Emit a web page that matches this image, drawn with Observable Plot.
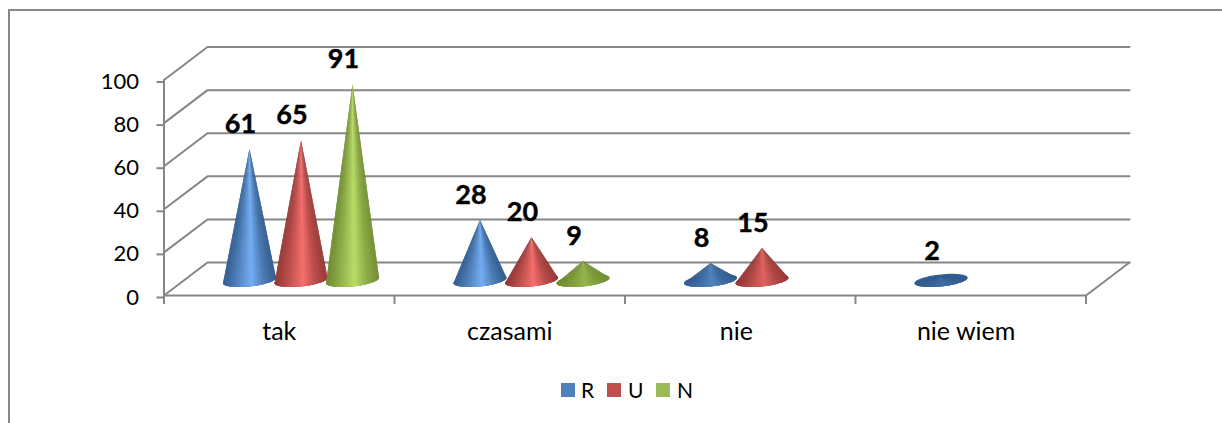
<!DOCTYPE html>
<html><head><meta charset="utf-8">
<script src="https://cdn.jsdelivr.net/npm/d3@7"></script>
<script src="https://cdn.jsdelivr.net/npm/@observablehq/plot@0.6"></script>
<style>
html,body{margin:0;padding:0;background:#fff;overflow:hidden;width:1222px;height:423px}
body{position:relative;font-family:Lato,sans-serif}
#frame{position:absolute;left:8px;top:9px;width:1300px;height:500px;border-left:2px solid #868686;border-top:2px solid #868686;pointer-events:none}
#chart{position:absolute;left:0;top:0}
#legend{position:absolute;left:0;top:376px;width:1222px;height:28px}
#legend span{position:absolute;top:0;font-size:21px;line-height:28px;color:#000}
#legend i{position:absolute;top:7px;width:14px;height:14px;display:block}
</style></head><body>
<div id="frame"></div>
<div id="chart"></div>
<div id="legend"></div>
<script>
const categories = ["tak","czasami","nie","nie wiem"];
const seriesNames = ["R","U","N"];
const valuesR = [61,28,8,2];
const valuesU = [65,20,15,null];
const valuesN = [91,9,null,null];
const yTicks = [0,20,40,60,80,100];
const xTicks = [0,1,2,3,4];
const labelTicks = [0.5,1.5,2.483,3.48];
const legendColors = ["#4f81bd","#c0504d","#9bbb59"];

const lineColor = "#868686";
const depthX = 0.1887, depthY = 15.3;   // oblique offset of the back wall, in scale units
const spacing = 0.2235, rx = 0.115, ry = 2.8, tilt = 1.25, floorY = 7;

const shades = [
  {edgeL:"#335d90", mid:"#74aef2", edgeR:"#335d8e"},
  {edgeL:"#933836", mid:"#f56f6d", edgeR:"#983a38"},
  {edgeL:"#6f8c32", mid:"#b9dc68", edgeR:"#738f34"}
];

const grid = yTicks.flatMap(v => [
  {id:v, x:0, y:v},
  {id:v, x:depthX, y:v+depthY},
  {id:v, x:4+depthX, y:v+depthY}
]);
const floorEdge = [{x:0,y:0},{x:4,y:0},{x:4+depthX,y:depthY}];

const cones = [];
[valuesR,valuesU,valuesN].forEach((vals,s) => vals.forEach((v,i) => {
  if (v==null) return;
  cones.push({s,i,v,cx:i+0.5+depthX/2+(s-1)*spacing});
}));

const bases = [], fans = [];
const N = 64;
cones.forEach((c,k) => {
  const sh = shades[c.s];
  const f = Math.min(1, (c.v+2)/22);
  const mid = d3.interpolateRgb(sh.edgeL, sh.mid)(f);
  const col = d3.scaleLinear().domain([-1,-0.55,0.08,0.55,1])
    .range([sh.edgeL, d3.interpolateRgb(sh.edgeL,mid)(0.38), mid, d3.interpolateRgb(sh.edgeR,mid)(0.38), sh.edgeR]);
  const at = t => ({x:c.cx+rx*Math.cos(t), y:floorY+tilt*Math.cos(t)-ry*Math.sin(t)});
  for (let j=0;j<=N;j++){ const t=j/N*2*Math.PI; bases.push({id:k,...at(t),color:sh.edgeL}); }
  // each slice reaches over the next one, so painting them in turn leaves no seams
  for (let j=N-1;j>=0;j--){
    const t0=Math.max(0,(j-1.2))/N*Math.PI, t1=(j+1)/N*Math.PI, id=k*1000+j;
    const color=col(Math.cos((j+0.5)/N*Math.PI));
    const apex={x:c.cx, y:floorY+c.v};
    fans.push({id,...apex,color},{id,...at(t0),color},{id,...at(t0+(t1-t0)/2),color},{id,...at(t1),color});
  }
});

const plot = Plot.plot({
  width:1222, height:376,
  marginLeft:163.5, marginRight:136.5, marginTop:79.5, marginBottom:81,
  x:{domain:[0,4], label:null},
  y:{domain:[0,100], label:null},
  color:{type:"identity"},
  style:{fontFamily:"Lato, sans-serif", background:"transparent", overflow:"visible"},
  marks:[
    Plot.line(grid,{x:"x",y:"y",z:"id",stroke:lineColor,strokeWidth:2}),
    Plot.line(floorEdge,{x:"x",y:"y",stroke:lineColor,strokeWidth:2}),
    Plot.ruleX([0],{y1:0,y2:100,stroke:lineColor,strokeWidth:2}),
    Plot.axisY({ticks:yTicks,tickSize:7,tickPadding:18,fontSize:22,stroke:lineColor,fill:"#000",strokeWidth:2,strokeOpacity:1,dy:2,label:null}),
    Plot.axisX({ticks:xTicks,tickSize:9,tickFormat:()=>"",stroke:lineColor,strokeWidth:2,strokeOpacity:1,label:null}),
    Plot.axisX({ticks:labelTicks,tickSize:0,tickPadding:27,tickFormat:d=>categories[labelTicks.indexOf(d)],fontSize:25,fill:"#000",label:null}),
    Plot.line(bases,{x:"x",y:"y",z:"id",fill:"color",stroke:"none"}),
    Plot.line(fans,{x:"x",y:"y",z:"id",fill:"color",stroke:"none"}),
    Plot.text(cones,{x:"cx",y:d=>floorY+d.v,text:d=>String(d.v),dx:-9,dy:-25,fontSize:27,fontWeight:700,fill:"#000",stroke:"#000",strokeWidth:0.4})
  ]
});
document.getElementById("chart").append(plot);

const legendPos = [[561,581],[607,628],[656,677]];
const lg = document.getElementById("legend");
seriesNames.forEach((n,i)=>{
  const sw=document.createElement("i");
  sw.style.left=legendPos[i][0]+"px"; sw.style.background=legendColors[i];
  const tx=document.createElement("span");
  tx.style.left=legendPos[i][1]+"px"; tx.textContent=n;
  lg.append(sw,tx);
});
</script>
</body></html>
